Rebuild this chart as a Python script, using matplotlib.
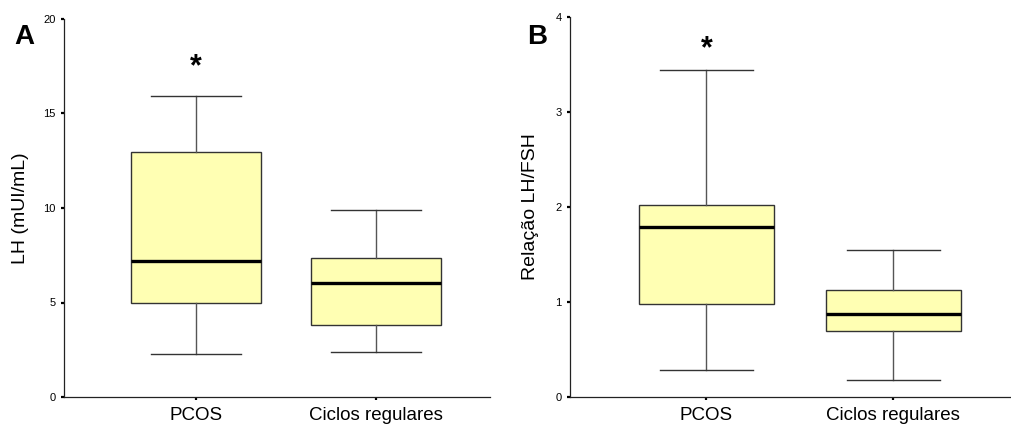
import matplotlib
matplotlib.use("Agg")
import matplotlib.pyplot as plt

plt.rcParams['font.family'] = ['Liberation Sans', 'DejaVu Sans']

categories = ["PCOS", "Ciclos regulares"]

# Panel A: LH (mUI/mL)
lh_whislo = [2.3, 2.4]
lh_q1 = [4.95, 3.83]
lh_med = [7.2, 6.03]
lh_q3 = [12.95, 7.37]
lh_whishi = [15.95, 9.9]
lh_ticks = [0, 5, 10, 15, 20]
lh_star = 17.45

# Panel B: Relação LH/FSH
r_whislo = [0.28, 0.18]
r_q1 = [0.98, 0.69]
r_med = [1.79, 0.87]
r_q3 = [2.02, 1.13]
r_whishi = [3.44, 1.55]
r_ticks = [0, 1, 2, 3, 4]
r_star = 3.66

W, H = 1011, 425
fig = plt.figure(figsize=(W / 100, H / 100), dpi=100)

def px_axes(x0, x1, ytop, ybot):
    return fig.add_axes([x0 / W, (H - ybot) / H, (x1 - x0) / W, (ybot - ytop) / H])

axA = px_axes(64, 490, 19, 397)
axB = px_axes(570, 1011, 17.3, 396.7)

def draw(ax, lo, q1, med, q3, hi, ticks, ylabel, letter, star, letter_xy):
    stats = []
    for i, name in enumerate(categories):
        stats.append(dict(label=name, whislo=lo[i], q1=q1[i], med=med[i], q3=q3[i], whishi=hi[i], fliers=[]))
    ax.bxp(stats, positions=[1, 2], widths=0.72, capwidths=0.5, showfliers=False,
           patch_artist=True,
           boxprops=dict(facecolor='#ffffb3', edgecolor='#333333', linewidth=1.0),
           medianprops=dict(color='black', linewidth=2.4, solid_capstyle='butt'),
           whiskerprops=dict(color='#555555', linewidth=1.0),
           capprops=dict(color='#333333', linewidth=1.0))
    ax.set_xlim(0.27, 2.63)
    ax.set_ylim(ticks[0], ticks[-1])
    ax.set_yticks(ticks)
    ax.set_yticklabels([str(t) for t in ticks], fontsize=8)
    ax.set_xticks([1, 2])
    ax.set_xticklabels(categories, fontsize=13.5)
    for s in ['top', 'right']:
        ax.spines[s].set_visible(False)
    for s in ['left', 'bottom']:
        ax.spines[s].set_linewidth(0.9)
        ax.spines[s].set_color('#222222')
    ax.tick_params(axis='both', direction='out', length=2.2, width=1.6, color='black')
    ax.tick_params(axis='y', pad=4)
    ax.tick_params(axis='x', pad=5)
    ax.set_ylabel(ylabel, fontsize=14)
    ax.text(1, star, '*', ha='center', va='center', fontsize=22, fontweight='bold')
    fig.text(letter_xy[0] / W, 1 - letter_xy[1] / H, letter, fontsize=20, fontweight='bold',
             ha='center', va='center')

draw(axA, lh_whislo, lh_q1, lh_med, lh_q3, lh_whishi, lh_ticks, 'LH (mUI/mL)', 'A', lh_star, (24, 37))
draw(axB, r_whislo, r_q1, r_med, r_q3, r_whishi, r_ticks, 'Relação LH/FSH', 'B', r_star, (537, 37))

axA.yaxis.set_label_coords((29 - 64) / (490 - 64), 0.5)
axB.yaxis.set_label_coords((539 - 570) / (1011 - 570), 0.5)

fig.savefig('out.png', dpi=100)
